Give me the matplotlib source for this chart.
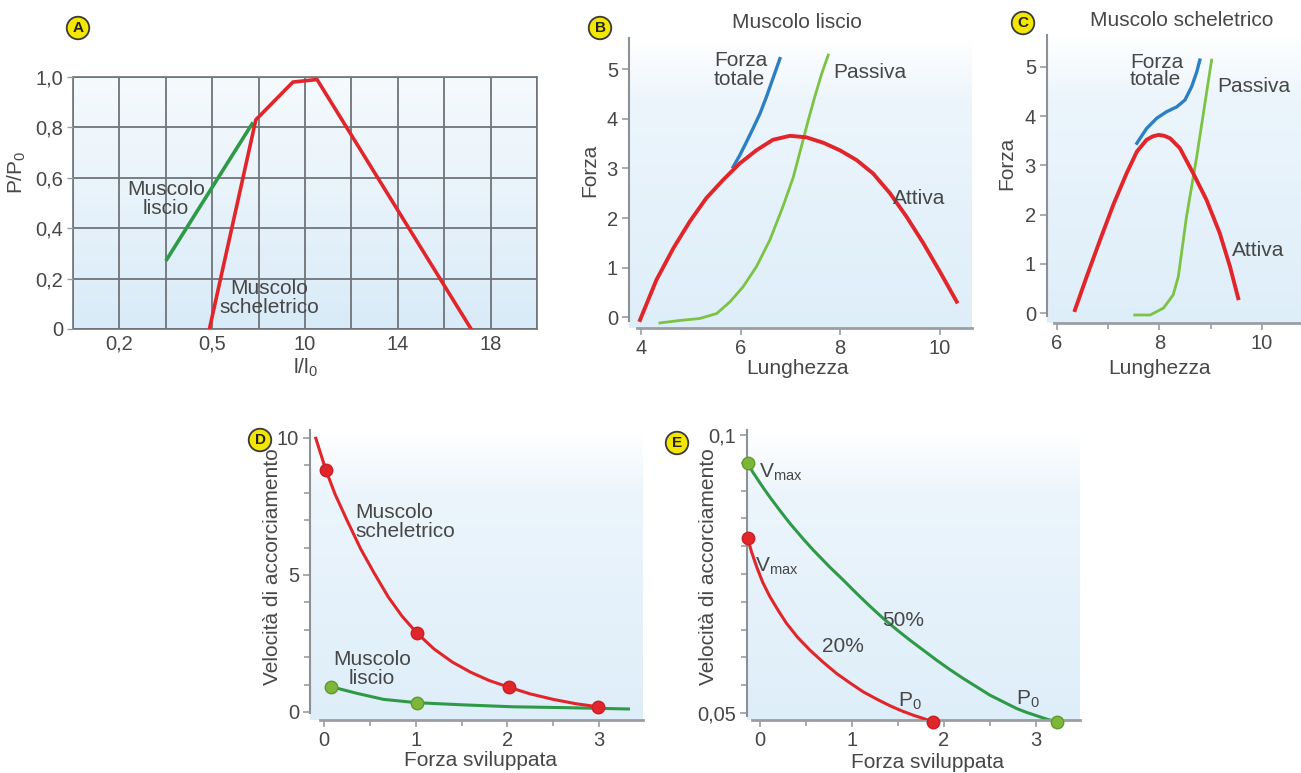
import numpy as np
import matplotlib
matplotlib.use('Agg')
import matplotlib.pyplot as plt
from matplotlib.colors import LinearSegmentedColormap

# --- data ---
# A: tension vs length (grid units, labels are the printed l/l0 values)
a_xtick_pos = [1, 3, 5, 7, 9]
a_xtick_lab = ['0,2', '0,5', '10', '14', '18']
a_ytick_pos = [0, 0.2, 0.4, 0.6, 0.8, 1.0]
a_ytick_lab = ['0', '0,2', '0,4', '0,6', '0,8', '1,0']
a_liscio_x = [2.0, 3.88]
a_liscio_y = [0.27, 0.82]
a_schel_x = [2.94, 3.94, 4.74, 5.26, 8.58]
a_schel_y = [0.0, 0.83, 0.98, 0.99, 0.0]

# B: smooth muscle
b_att_x = [3.98, 4.31, 4.65, 4.98, 5.31, 5.65, 5.98, 6.32, 6.65, 6.99, 7.32, 7.66, 7.99, 8.33, 8.66, 9.0, 9.33, 9.67, 10.0, 10.34]
b_att_y = [-0.06, 0.75, 1.39, 1.93, 2.40, 2.77, 3.10, 3.37, 3.58, 3.66, 3.63, 3.52, 3.37, 3.17, 2.90, 2.50, 2.03, 1.49, 0.92, 0.31]
b_tot_x = [5.85, 5.98, 6.12, 6.25, 6.39, 6.52, 6.65, 6.79]
b_tot_y = [3.03, 3.26, 3.54, 3.81, 4.11, 4.45, 4.82, 5.22]
b_pas_x = [4.38, 4.78, 5.18, 5.52, 5.79, 6.05, 6.32, 6.59, 6.85, 7.06, 7.22, 7.36, 7.49, 7.63, 7.76]
b_pas_y = [-0.12, -0.07, -0.03, 0.07, 0.31, 0.61, 1.02, 1.56, 2.23, 2.83, 3.44, 3.98, 4.45, 4.92, 5.29]

# C: skeletal muscle
c_att_x = [6.35, 6.58, 6.84, 7.10, 7.36, 7.56, 7.75, 7.87, 7.99, 8.10, 8.21, 8.40, 8.66, 8.92, 9.18, 9.38, 9.54]
c_att_y = [0.06, 0.74, 1.48, 2.20, 2.84, 3.28, 3.52, 3.59, 3.62, 3.60, 3.55, 3.35, 2.84, 2.30, 1.62, 0.94, 0.30]
c_tot_x = [7.56, 7.75, 7.95, 8.14, 8.34, 8.50, 8.63, 8.73, 8.79]
c_tot_y = [3.45, 3.75, 3.96, 4.09, 4.19, 4.33, 4.60, 4.90, 5.14]
c_pas_x = [7.52, 7.82, 8.08, 8.27, 8.37, 8.45, 8.53, 8.63, 8.73, 8.82, 8.92, 9.02]
c_pas_y = [-0.04, -0.04, 0.10, 0.37, 0.74, 1.35, 1.96, 2.57, 3.18, 3.79, 4.47, 5.14]

# D: shortening velocity vs force
d_sk_x = [-0.09, 0.02, 0.12, 0.25, 0.40, 0.55, 0.70, 0.85, 1.01, 1.20, 1.40, 1.60, 1.80, 2.02, 2.25, 2.50, 2.75, 2.99]
d_sk_y = [9.99, 8.83, 7.95, 7.00, 5.95, 5.05, 4.20, 3.50, 2.89, 2.30, 1.82, 1.45, 1.15, 0.90, 0.66, 0.46, 0.30, 0.19]
d_sk_pts_x = [0.02, 1.01, 2.02, 2.99]
d_sk_pts_y = [8.83, 2.89, 0.90, 0.19]
d_li_x = [0.08, 0.36, 0.65, 1.01, 1.52, 2.06, 2.61, 3.32]
d_li_y = [0.92, 0.68, 0.46, 0.34, 0.26, 0.19, 0.16, 0.11]
d_li_pts_x = [0.08, 1.01]
d_li_pts_y = [0.92, 0.34]

# E: 50% and 20% curves
e_50_x = [-0.134, -0.073, 0.036, 0.109, 0.218, 0.326, 0.471, 0.58, 0.762, 0.907, 1.052, 1.197, 1.342, 1.487,
          1.632, 1.777, 1.922, 2.067, 2.212, 2.358, 2.503, 2.648, 2.793, 2.902, 3.011, 3.12, 3.228]
e_50_y = [0.0949, 0.0932, 0.0905, 0.0888, 0.0864, 0.0841, 0.0813, 0.0793, 0.0762, 0.0739, 0.0715, 0.0692, 0.0670, 0.0650,
          0.0631, 0.0613, 0.0595, 0.0578, 0.0562, 0.0547, 0.0532, 0.0520, 0.0508, 0.0501, 0.0495, 0.0489, 0.0484]
e_20_x = [-0.134, -0.09, -0.036, 0.03, 0.109, 0.2, 0.290, 0.41, 0.544, 0.69, 0.834, 0.98, 1.124, 1.27, 1.415, 1.54, 1.668, 1.78, 1.886]
e_20_y = [0.0814, 0.0789, 0.0763, 0.0735, 0.0709, 0.0684, 0.0661, 0.0636, 0.0613, 0.0591, 0.0571, 0.0554, 0.0538, 0.0525,
          0.0513, 0.0504, 0.0496, 0.0490, 0.0484]

RED = '#e1262b'
GREEN = '#2e9a47'
LGREEN = '#7cc243'
BLUE = '#2c7fc3'
MGREEN = '#7db73a'
TXT = '#474747'
SPINE = '#9a9ea3'
FS = 15
TFS = 14.5

plt.rcParams['font.family'] = ['Liberation Sans', 'DejaVu Sans']
plt.rcParams['font.size'] = FS
plt.rcParams['text.color'] = TXT
plt.rcParams['xtick.color'] = SPINE
plt.rcParams['ytick.color'] = SPINE
plt.rcParams['xtick.labelcolor'] = TXT
plt.rcParams['ytick.labelcolor'] = TXT
plt.rcParams['mathtext.fontset'] = 'custom'
plt.rcParams['mathtext.rm'] = 'Liberation Sans'
plt.rcParams['mathtext.it'] = 'Liberation Sans'

W, H = 1301, 773
fig = plt.figure(figsize=(W / 100, H / 100), dpi=100)

bg = LinearSegmentedColormap.from_list('bg', [(0, '#ffffff'), (0.22, '#ecf5fc'), (1, '#deeef9')])
bg_a = LinearSegmentedColormap.from_list('bga', [(0, '#f5fafd'), (1, '#d9ebf8')])


def add_ax(l, t, r, b):
    return fig.add_axes([l / W, 1 - b / H, (r - l) / W, (b - t) / H])


def ftext(x, y, s, **kw):
    kw.setdefault('ha', 'center')
    kw.setdefault('va', 'center')
    kw.setdefault('fontsize', FS)
    fig.text(x / W, 1 - y / H, s, **kw)


def backdrop(ax, cmap=bg):
    ax.imshow(np.linspace(0, 1, 256).reshape(-1, 1), cmap=cmap, aspect='auto',
              extent=[0, 1, 0, 1], transform=ax.transAxes, zorder=0)


def badge(x, y, letter):
    ftext(x, y, letter, fontsize=11, fontweight='bold', color='#222222',
          bbox=dict(boxstyle='circle,pad=0.28', fc='#f3e600', ec='#3a3a3a', lw=1.3))


def open_axes(ax, xlim, ylim, xb, yb):
    ax.set_facecolor('none')
    for s in ['top', 'right']:
        ax.spines[s].set_visible(False)
    ax.spines['left'].set_color('#8c9196')
    ax.spines['left'].set_linewidth(1.5)
    ax.spines['bottom'].set_color(SPINE)
    ax.spines['bottom'].set_linewidth(2)
    ax.spines['bottom'].set_bounds(*xb)
    ax.spines['left'].set_bounds(*yb)
    ax.set_xlim(*xlim)
    ax.set_ylim(*ylim)
    ax.tick_params(which='both', direction='out', width=1.2, labelsize=TFS)
    ax.tick_params(which='major', length=5, pad=3)
    ax.tick_params(which='minor', length=4)


# ---------------- A ----------------
axA = add_ax(73, 77, 537, 329)
backdrop(axA, bg_a)
axA.set_xlim(0, 10)
axA.set_ylim(0, 1)
axA.set_xticks(a_xtick_pos)
axA.set_xticklabels(a_xtick_lab)
axA.set_xticks(range(0, 11), minor=True)
axA.set_yticks(a_ytick_pos)
axA.set_yticklabels(a_ytick_lab)
axA.grid(True, which='both', color='#6f7479', lw=1.3)
axA.set_axisbelow(False)
for s in axA.spines.values():
    s.set_color('#7a7f84')
    s.set_linewidth(1.3)
axA.tick_params(axis='x', which='both', length=0, pad=4, labelsize=TFS)
axA.tick_params(axis='y', length=4, width=1, pad=3, labelsize=TFS)
axA.plot(a_liscio_x, a_liscio_y, color=GREEN, lw=2.6, zorder=3, solid_capstyle='butt')
axA.plot(a_schel_x, a_schel_y, color=RED, lw=2.6, zorder=3, solid_joinstyle='round')
ftext(166, 199, 'Muscolo\nliscio', linespacing=1.0)
ftext(269, 298, 'Muscolo\nscheletrico', linespacing=1.0)
ftext(17, 172, r'P/P$_0$', rotation=90)
ftext(305, 368, r'l/l$_0$')
badge(78, 28, 'A')

# ---------------- B ----------------
axB = add_ax(629, 38, 972, 328)
backdrop(axB)
open_axes(axB, (3.759, 10.647), (-0.222, 5.636), (3.92, 10.647), (-0.08, 5.636))
axB.set_xticks([4, 6, 8, 10])
axB.set_yticks([0, 1, 2, 3, 4, 5])
axB.plot(b_att_x, b_att_y, color=RED, lw=2.8, zorder=3)
axB.plot(b_tot_x, b_tot_y, color=BLUE, lw=2.4, zorder=2)
axB.plot(b_pas_x, b_pas_y, color=LGREEN, lw=2.0, zorder=2)
ftext(797, 22, 'Muscolo liscio')
ftext(714, 70, 'Forza\ntotale', ha='left', linespacing=0.95)
ftext(833, 72, 'Passiva', ha='left')
ftext(893, 199, 'Attiva', ha='left')
ftext(590, 170, 'Forza', rotation=90)
ftext(797, 368, 'Lunghezza')
badge(600, 28, 'B')

# ---------------- C ----------------
axC = add_ax(1047, 35, 1301, 323)
backdrop(axC)
open_axes(axC, (5.805, 10.766), (-0.203, 5.65), (5.95, 10.766), (-0.06, 5.65))
axC.set_xticks([6, 8, 10])
axC.set_xticks([7, 9], minor=True)
axC.set_yticks([0, 1, 2, 3, 4, 5])
axC.plot(c_att_x, c_att_y, color=RED, lw=2.8, zorder=3)
axC.plot(c_tot_x, c_tot_y, color=BLUE, lw=2.4, zorder=2)
axC.plot(c_pas_x, c_pas_y, color=LGREEN, lw=2.0, zorder=2)
ftext(1182, 20, 'Muscolo scheletrico')
ftext(1130, 71, 'Forza\ntotale', ha='left', linespacing=0.9)
ftext(1217, 87, 'Passiva', ha='left')
ftext(1232, 250, 'Attiva', ha='left')
ftext(1007, 163, 'Forza', rotation=90)
ftext(1160, 368, 'Lunghezza')
badge(1023, 23, 'C')

# ---------------- D ----------------
axD = add_ax(310, 430, 643, 720)
backdrop(axD)
open_axes(axD, (-0.153, 3.479), (-0.292, 10.29), (-0.04, 3.479), (-0.05, 10.29))
axD.set_xticks([0, 1, 2, 3])
axD.set_xticks([0.5, 1.5, 2.5], minor=True)
axD.set_yticks([0, 5, 10])
axD.set_yticks([1, 2, 3, 4, 6, 7, 8, 9], minor=True)
axD.plot(d_li_x, d_li_y, color=GREEN, lw=2.2, zorder=2)
axD.plot(d_sk_x, d_sk_y, color=RED, lw=2.2, zorder=3)
axD.plot(d_sk_pts_x, d_sk_pts_y, 'o', color=RED, ms=9, mec='#c81e24', zorder=4, clip_on=False)
axD.plot(d_li_pts_x, d_li_pts_y, 'o', color=MGREEN, ms=9, mec='#5f9a2c', zorder=4, clip_on=False)
ftext(355, 522, 'Muscolo\nscheletrico', ha='left', linespacing=1.0)
ftext(372, 669, 'Muscolo\nliscio', linespacing=1.0)
ftext(273, 567, 'Velocità di accorciamento', rotation=90)
ftext(480, 760, 'Forza sviluppata')
badge(260, 440, 'D')

# ---------------- E ----------------
axE = add_ax(747, 430, 1080, 720)
backdrop(axE)
open_axes(axE, (-0.141, 3.482), (0.04874, 0.1009), (-0.087, 3.482), (0.0495, 0.1009))
axE.set_xticks([0, 1, 2, 3])
axE.set_xticks([0.5, 1.5, 2.5], minor=True)
axE.set_yticks([0.05, 0.1])
axE.set_yticklabels(['0,05', '0,1'])
axE.set_yticks([0.055, 0.06, 0.065, 0.07, 0.075, 0.08, 0.085, 0.09, 0.095], minor=True)
axE.plot(e_50_x, e_50_y, color=GREEN, lw=2.2, zorder=2)
axE.plot(e_20_x, e_20_y, color=RED, lw=2.2, zorder=3)
axE.plot([e_50_x[0], e_50_x[-1]], [e_50_y[0], e_50_y[-1]], 'o', color=MGREEN, ms=9, mec='#5f9a2c', zorder=4, clip_on=False)
axE.plot([e_20_x[0], e_20_x[-1]], [e_20_y[0], e_20_y[-1]], 'o', color=RED, ms=9, mec='#c81e24', zorder=4, clip_on=False)
ftext(759, 472, r'V$_{\rm max}$', ha='left')
ftext(755, 566, r'V$_{\rm max}$', ha='left')
ftext(903, 620, '50%')
ftext(843, 647, '20%')
ftext(910, 701, r'P$_0$')
ftext(1028, 699, r'P$_0$')
ftext(708, 567, 'Velocità di accorciamento', rotation=90)
ftext(927, 762, 'Forza sviluppata')
badge(677, 443, 'E')

fig.savefig('out.png', dpi=100, facecolor='white')
